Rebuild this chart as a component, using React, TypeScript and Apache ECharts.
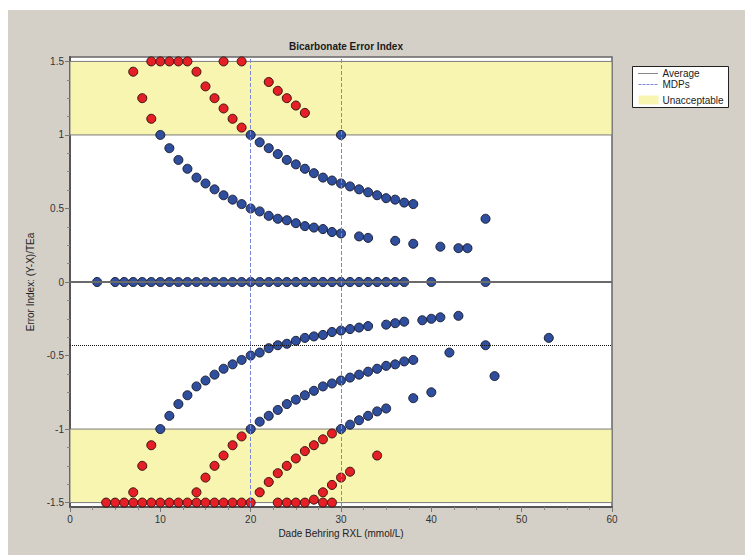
import React, { useEffect, useRef } from "react";
import * as echarts from "echarts";

// ---- Data ----
const xTickValues = [0, 10, 20, 30, 40, 50, 60];
const yTickValues = [-1.5, -1, -0.5, 0, 0.5, 1, 1.5];
const yMinorTickValues = [
  -1.375, -1.25, -1.125, -0.875, -0.75, -0.625, -0.375, -0.25, -0.125,
  0.125, 0.25, 0.375, 0.625, 0.75, 0.875, 1.125, 1.25, 1.375,
];

// within limits (blue)
const zeroLineX = [3, 5, 6, 7, 8, 9, 10, 11, 12, 13, 14, 15, 16, 17, 18, 19, 20, 21, 22, 23, 24, 25, 26, 27, 28, 29, 30, 31, 32, 33, 34, 35, 36, 37, 40, 46];
const bluePlus1: [number, number][] = [
  [10, 1.0], [11, 0.91], [12, 0.83], [13, 0.77], [14, 0.71], [15, 0.67], [16, 0.63], [17, 0.59], [18, 0.56], [19, 0.53],
  [20, 0.5], [21, 0.48], [22, 0.45], [23, 0.43], [24, 0.42], [25, 0.4], [26, 0.38], [27, 0.37], [28, 0.36], [29, 0.34],
  [30, 0.33], [32, 0.31], [33, 0.3], [36, 0.28], [38, 0.26], [41, 0.24], [43, 0.23], [44, 0.23],
];
const bluePlus2: [number, number][] = [
  [20, 1.0], [21, 0.95], [22, 0.91], [23, 0.87], [24, 0.83], [25, 0.8], [26, 0.77], [27, 0.74], [28, 0.71], [29, 0.69],
  [30, 0.67], [31, 0.65], [32, 0.63], [33, 0.61], [34, 0.59], [35, 0.57], [36, 0.56], [37, 0.54], [38, 0.53], [46, 0.43],
];
const bluePlus3: [number, number][] = [[30, 1.0]];
const blueMinus1: [number, number][] = [
  [10, -1.0], [11, -0.91], [12, -0.83], [13, -0.77], [14, -0.71], [15, -0.67], [16, -0.63], [17, -0.59], [18, -0.56], [19, -0.53],
  [20, -0.5], [21, -0.48], [22, -0.45], [23, -0.43], [24, -0.42], [25, -0.4], [26, -0.38], [27, -0.37], [28, -0.36], [29, -0.34],
  [30, -0.33], [31, -0.32], [32, -0.31], [33, -0.3], [35, -0.29], [36, -0.28], [37, -0.27], [39, -0.26], [40, -0.25], [41, -0.24], [43, -0.23],
];
const blueMinus2: [number, number][] = [
  [20, -1.0], [21, -0.95], [22, -0.91], [23, -0.87], [24, -0.83], [25, -0.8], [26, -0.77], [27, -0.74], [28, -0.71], [29, -0.69],
  [30, -0.67], [31, -0.65], [32, -0.63], [33, -0.61], [34, -0.59], [35, -0.57], [36, -0.56], [37, -0.54], [38, -0.53],
  [42, -0.48], [46, -0.43], [53, -0.38],
];
const blueMinus3: [number, number][] = [
  [30, -1.0], [31, -0.97], [32, -0.94], [33, -0.91], [34, -0.88], [35, -0.86], [38, -0.79], [40, -0.75], [47, -0.64],
];

// outside limits (red)
const redUpper: [number, number][] = [
  [7, 1.43], [8, 1.25], [9, 1.11],
  [14, 1.43], [15, 1.33], [16, 1.25], [17, 1.18], [18, 1.11], [19, 1.05],
  [22, 1.36], [23, 1.3], [24, 1.25], [25, 1.2], [26, 1.15],
];
const redUpperClippedX = [9, 10, 11, 12, 13, 17, 19];
const redLower: [number, number][] = [
  [7, -1.43], [8, -1.25], [9, -1.11],
  [14, -1.43], [15, -1.33], [16, -1.25], [17, -1.18], [18, -1.11], [19, -1.05],
  [21, -1.43], [22, -1.36], [23, -1.3], [24, -1.25], [25, -1.2], [26, -1.15], [27, -1.11], [28, -1.07], [29, -1.03],
  [27, -1.48], [28, -1.43], [29, -1.38], [30, -1.33], [31, -1.29], [34, -1.18],
];
const redLowerClippedX = [4, 5, 6, 7, 8, 9, 10, 11, 12, 13, 14, 15, 16, 17, 18, 19, 20, 23, 24, 25, 26, 28, 29];

const averageValue = -0.43;
const mdpValues = [20, 30];
const upperBand = [1, 1.5];
const lowerBand = [-1.5, -1];
const clipHigh = 1.5;
const clipLow = -1.5;

const FONT = "'Liberation Sans', Arial, sans-serif";

export default function App() {
  const ref = useRef<HTMLDivElement>(null);

  useEffect(() => {
    if (!ref.current) return;
    const chart = echarts.init(ref.current, undefined, { renderer: "svg" });

    const blueData = [
      ...zeroLineX.map((x) => [x, 0]),
      ...bluePlus1,
      ...bluePlus2,
      ...bluePlus3,
      ...blueMinus1,
      ...blueMinus2,
      ...blueMinus3,
    ];
    const redData = [
      ...redUpper,
      ...redUpperClippedX.map((x) => [x, clipHigh]),
      ...redLower,
      ...redLowerClippedX.map((x) => [x, clipLow]),
    ];

    const gridLeft = 70;
    const gridTop = 57;
    const gridRight = 133;
    const gridBottom = 48;

    chart.setOption({
      animation: false,
      backgroundColor: "transparent",
      title: {
        text: "Bicarbonate Error Index",
        left: 341,
        top: 36,
        textAlign: "center",
        textStyle: { fontFamily: FONT, fontSize: 10, fontWeight: "bold", color: "#1a1a1a" },
      },
      grid: {
        left: gridLeft,
        top: gridTop,
        right: gridRight,
        bottom: gridBottom,
        show: true,
        backgroundColor: "#ffffff",
        borderColor: "#666666",
        borderWidth: 1.5,
        containLabel: false,
        outerBoundsMode: "none",
      },
      xAxis: {
        type: "value",
        min: 0,
        max: 60,
        interval: 10,
        name: "Dade Behring RXL (mmol/L)",
        nameLocation: "middle",
        nameGap: 21,
        nameTextStyle: { fontFamily: FONT, fontSize: 10, color: "#222" },
        axisLine: { show: true, onZero: false, lineStyle: { color: "#555", width: 2 } },
        axisTick: { show: true, length: 5, lineStyle: { color: "#777" } },
        minorTick: { show: true, splitNumber: 4, length: 3, lineStyle: { color: "#888" } },
        splitLine: { show: false },
        axisLabel: {
          fontFamily: FONT,
          fontSize: 10,
          color: "#333",
          margin: 7,
          customValues: xTickValues,
        },
      },
      yAxis: [
        {
          type: "value",
          min: -1.53,
          max: 1.53,
          name: "Error Index: (Y-X)/TEa",
          nameLocation: "middle",
          nameGap: 32,
          nameTextStyle: { fontFamily: FONT, fontSize: 10, color: "#222" },
          axisLine: { show: true, onZero: false, lineStyle: { color: "#555", width: 2 } },
          axisTick: { show: true, length: 5, customValues: yTickValues, lineStyle: { color: "#777" } },
          splitLine: { show: false },
          axisLabel: {
            fontFamily: FONT,
            fontSize: 10,
            color: "#333",
            margin: 6,
            customValues: yTickValues,
          },
        },
        {
          type: "value",
          min: -1.53,
          max: 1.53,
          position: "left",
          axisLine: { show: false },
          axisTick: { show: true, length: 3, customValues: yMinorTickValues, lineStyle: { color: "#888" } },
          axisLabel: { show: false },
          splitLine: { show: false },
        },
      ],
      series: [
        {
          name: "reference",
          type: "line",
          data: [],
          z: 1,
          silent: true,
          markArea: {
            silent: true,
            itemStyle: { color: "#f8f5b0", borderColor: "#7a7a7a", borderWidth: 1 },
            data: [
              [{ yAxis: upperBand[0] }, { yAxis: upperBand[1] }],
              [{ yAxis: lowerBand[0] }, { yAxis: lowerBand[1] }],
            ],
          },
          markLine: {
            silent: true,
            symbol: "none",
            label: { show: false },
            data: [
              { yAxis: 0, lineStyle: { color: "#6a6a6a", width: 2, type: "solid" } },
              { yAxis: averageValue, lineStyle: { color: "#111", width: 1, type: [1, 1] } },
              ...mdpValues.map((v) => ({ xAxis: v, lineStyle: { color: "#7b86d8", width: 1, type: [4, 2] } })),
            ],
          },
        },
        {
          name: "Within limits",
          type: "scatter",
          z: 3,
          symbolSize: 9,
          itemStyle: { color: "#2f4e9e", borderColor: "#1b1f33", borderWidth: 1, opacity: 1 },
          data: blueData,
        },
        {
          name: "Outside limits",
          type: "scatter",
          z: 3,
          symbolSize: 9,
          itemStyle: { color: "#e41f26", borderColor: "#3a1212", borderWidth: 1, opacity: 1 },
          data: redData,
        },
      ],
      graphic: [
        {
          type: "group",
          left: 632,
          top: 66,
          children: [
            { type: "rect", shape: { x: 0, y: 0, width: 96, height: 41 }, style: { fill: "#ffffff", stroke: "#222", lineWidth: 1 } },
            { type: "line", shape: { x1: 6, y1: 7, x2: 26, y2: 7 }, style: { stroke: "#111", lineWidth: 1, lineDash: [1, 1] } },
            { type: "text", x: 30, y: 7, style: { text: "Average", fontFamily: FONT, fontSize: 10, fill: "#222", verticalAlign: "middle" } },
            { type: "line", shape: { x1: 6, y1: 18, x2: 26, y2: 18 }, style: { stroke: "#7b86d8", lineWidth: 1, lineDash: [3, 1] } },
            { type: "text", x: 30, y: 18, style: { text: "MDPs", fontFamily: FONT, fontSize: 10, fill: "#222", verticalAlign: "middle" } },
            { type: "rect", shape: { x: 6, y: 29, width: 20, height: 9 }, style: { fill: "#f8f5b0" } },
            { type: "text", x: 30, y: 34, style: { text: "Unacceptable", fontFamily: FONT, fontSize: 10, fill: "#222", verticalAlign: "middle" } },
          ],
        },
      ],
    });

    return () => chart.dispose();
  }, []);

  return (
    <div style={{ position: "fixed", left: 0, top: 0, width: 745, height: 555, background: "#ffffff", overflow: "hidden" }}>
      <div style={{ position: "absolute", left: 8, top: 10, right: 0, bottom: 0, background: "#d4d0c8" }} />
      <div ref={ref} style={{ position: "absolute", left: 0, top: 0, width: 745, height: 555 }} />
    </div>
  );
}
